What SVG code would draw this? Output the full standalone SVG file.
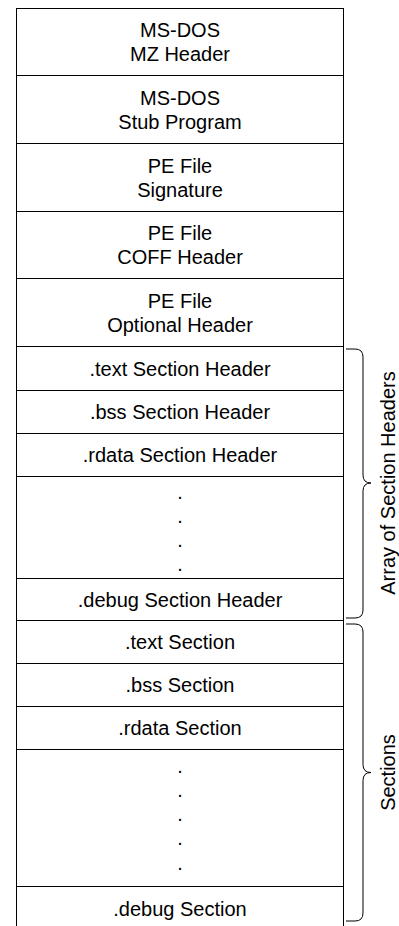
<svg xmlns="http://www.w3.org/2000/svg" width="399" height="926" viewBox="0 0 399 926">
<style>
  .box { fill: #ffffff; stroke: #000000; stroke-width: 1; }
  .lbl { font-family: "Liberation Sans", Arial, sans-serif; font-size: 20px; fill: #000000; text-anchor: middle; }
  .brace { fill: none; stroke: #000000; stroke-width: 1; }
</style>
<rect width="399" height="926" fill="#ffffff"/>
<g id="mz-header">
  <rect class="box" x="16.5" y="8.5" width="327" height="67"/>
  <text class="lbl" x="180" y="37">MS-DOS</text>
  <text class="lbl" x="180" y="61">MZ Header</text>
</g>
<g id="stub-program">
  <rect class="box" x="16.5" y="75.5" width="327" height="68"/>
  <text class="lbl" x="180" y="104.5">MS-DOS</text>
  <text class="lbl" x="180" y="128.5">Stub Program</text>
</g>
<g id="pe-signature">
  <rect class="box" x="16.5" y="143.5" width="327" height="68"/>
  <text class="lbl" x="180" y="172.5">PE File</text>
  <text class="lbl" x="180" y="196.5">Signature</text>
</g>
<g id="coff-header">
  <rect class="box" x="16.5" y="211.5" width="327" height="67"/>
  <text class="lbl" x="180" y="240">PE File</text>
  <text class="lbl" x="180" y="264">COFF Header</text>
</g>
<g id="optional-header">
  <rect class="box" x="16.5" y="278.5" width="327" height="68"/>
  <text class="lbl" x="180" y="307.5">PE File</text>
  <text class="lbl" x="180" y="331.5">Optional Header</text>
</g>
<g id="text-section-header">
  <rect class="box" x="16.5" y="346.5" width="327" height="44"/>
  <text class="lbl" x="180" y="375.5">.text Section Header</text>
</g>
<g id="bss-section-header">
  <rect class="box" x="16.5" y="390.5" width="327" height="43"/>
  <text class="lbl" x="180" y="419">.bss Section Header</text>
</g>
<g id="rdata-section-header">
  <rect class="box" x="16.5" y="433.5" width="327" height="43"/>
  <text class="lbl" x="180" y="462">.rdata Section Header</text>
</g>
<g id="header-ellipsis">
  <rect class="box" x="16.5" y="476.5" width="327" height="102"/>
  <text class="lbl" x="180" y="499">.</text>
  <text class="lbl" x="180" y="523">.</text>
  <text class="lbl" x="180" y="546.5">.</text>
  <text class="lbl" x="180" y="570.5">.</text>
</g>
<g id="debug-section-header">
  <rect class="box" x="16.5" y="578.5" width="327" height="42"/>
  <text class="lbl" x="180" y="606.5">.debug Section Header</text>
</g>
<g id="text-section">
  <rect class="box" x="16.5" y="620.5" width="327" height="43"/>
  <text class="lbl" x="180" y="649">.text Section</text>
</g>
<g id="bss-section">
  <rect class="box" x="16.5" y="663.5" width="327" height="43"/>
  <text class="lbl" x="180" y="692">.bss Section</text>
</g>
<g id="rdata-section">
  <rect class="box" x="16.5" y="706.5" width="327" height="43"/>
  <text class="lbl" x="180" y="735">.rdata Section</text>
</g>
<g id="section-ellipsis">
  <rect class="box" x="16.5" y="749.5" width="327" height="137"/>
  <text class="lbl" x="180" y="773">.</text>
  <text class="lbl" x="180" y="797">.</text>
  <text class="lbl" x="180" y="821">.</text>
  <text class="lbl" x="180" y="845">.</text>
  <text class="lbl" x="180" y="869.5">.</text>
</g>
<g id="debug-section">
  <rect class="box" x="16.5" y="886.5" width="327" height="44"/>
  <text class="lbl" x="180" y="915.5">.debug Section</text>
</g>
<g id="connectors">
  <path class="brace" d="M346,349 H355 Q363,349 363,357 V475 Q363,483 371,483 Q363,483 363,491 V610 Q363,618 355,618 H346"/>
  <path class="brace" d="M346,624 H355 Q363,624 363,632 V764.5 Q363,772.5 371,772.5 Q363,772.5 363,780.5 V913 Q363,921 355,921 H346"/>
</g>
<g id="array-label">
  <text class="lbl" transform="translate(395,483) rotate(-90)">Array of Section Headers</text>
</g>
<g id="sections-label">
  <text class="lbl" transform="translate(395,772.5) rotate(-90)">Sections</text>
</g>
</svg>
